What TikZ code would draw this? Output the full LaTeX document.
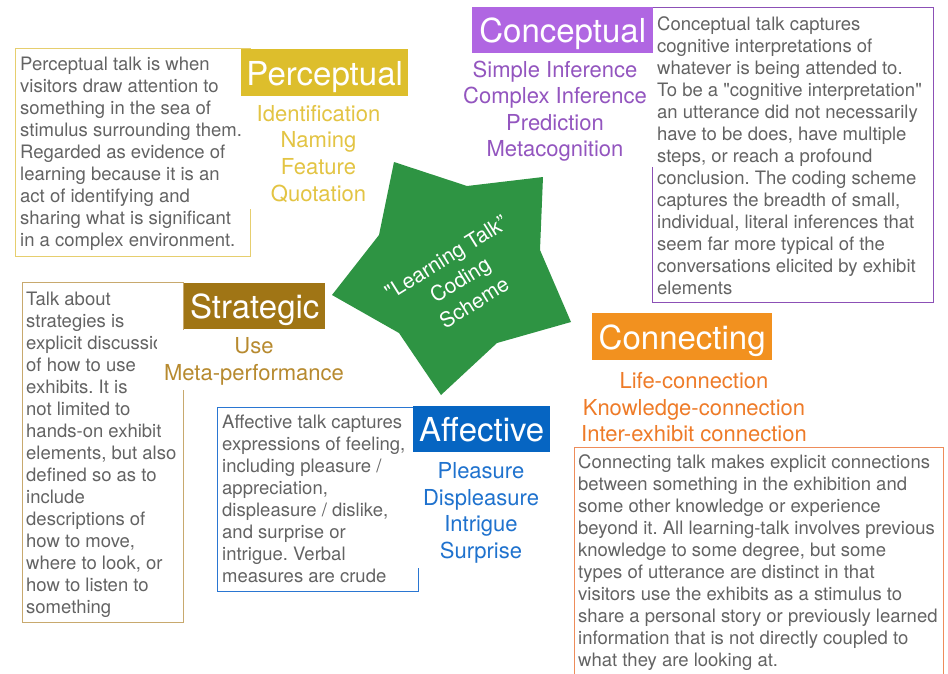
\documentclass[tikz,border=0pt]{standalone}
\usepackage{fontspec}
\setmainfont{TeX Gyre Heros}[Ligatures=TeXOff]

\definecolor{percfill}{HTML}{DDBE2C}
\definecolor{percitem}{HTML}{E3C443}
\definecolor{percline}{HTML}{E6CE6E}
\definecolor{concfill}{HTML}{B066E2}
\definecolor{concitem}{HTML}{9355BF}
\definecolor{concline}{HTML}{8C50B6}
\definecolor{stratfill}{HTML}{A07515}
\definecolor{stratitem}{HTML}{B78A2F}
\definecolor{stratline}{HTML}{C8A96E}
\definecolor{connfill}{HTML}{F2911F}
\definecolor{connitem}{HTML}{EE7B28}
\definecolor{connline}{HTML}{EE8C5A}
\definecolor{afffill}{HTML}{0665C2}
\definecolor{affitem}{HTML}{1F72CE}
\definecolor{affline}{HTML}{2A76D2}
\definecolor{stargreen}{HTML}{2E9443}
\definecolor{descgray}{HTML}{636363}

\begin{document}
\frenchspacing
\begin{tikzpicture}[x=1pt,y=-1pt,
  desc/.style={anchor=base west, inner sep=0pt, text=descgray,
    font=\fontsize{18.5}{22}\selectfont},
  item/.style={anchor=base, inner sep=0pt, font=\fontsize{22}{26.7}\selectfont},
  titlebox/.style={anchor=north west, inner sep=0pt, text=white,
    font=\fontsize{33}{36}\selectfont, text height=32pt, text depth=7.4pt},
  descbox/.style={anchor=north west, inner sep=0pt, line width=1.2pt},
  cover/.style={fill=white}]

\useasboundingbox (0,0) rectangle (948,673);

% description frames
\node[descbox, draw=percline, minimum width=235pt, minimum height=208pt] (pbox) at (15,48) {};
\node[descbox, draw=concline, minimum width=281pt, minimum height=295pt] (cbox) at (652,7) {};
\node[descbox, draw=stratline, minimum width=161pt, minimum height=340pt] (sbox) at (22,282) {};
\node[descbox, draw=affline, minimum width=201pt, minimum height=184pt] (abox) at (217,407) {};
\node[descbox, draw=connline, minimum width=369pt, minimum height=233pt] (nbox) at (574,447) {};

% description texts
\foreach \t [count=\i from 0] in {
  {Perceptual talk is when},
  {visitors draw attention to},
  {something in the sea of},
  {stimulus surrounding them.},
  {Regarded as evidence of},
  {learning because it is an},
  {act of identifying and},
  {sharing what is significant},
  {in a complex environment.}}
  \node[desc] (pd\i) at (20,{70.5+22*\i}) {\t};

\foreach \t [count=\i from 0] in {
  {Conceptual talk captures},
  {cognitive interpretations of},
  {whatever is being attended to.},
  {To be a "cognitive interpretation"},
  {an utterance did not necessarily},
  {have to be does, have multiple},
  {steps, or reach a profound},
  {conclusion. The coding scheme},
  {captures the breadth of small,},
  {individual, literal inferences that},
  {seem far more typical of the},
  {conversations elicited by exhibit},
  {elements}}
  \node[desc] (cd\i) at (657,{30.7+22*\i}) {\t};

\foreach \t [count=\i from 0] in {
  {Talk about},
  {strategies is},
  {explicit discussion},
  {of how to use},
  {exhibits. It is},
  {not limited to},
  {hands-on exhibit},
  {elements, but also},
  {defined so as to},
  {include},
  {descriptions of},
  {how to move,},
  {where to look, or},
  {how to listen to},
  {something}}
  \node[desc] (sd\i) at (26,{305+22*\i}) {\t};

\foreach \t [count=\i from 0] in {
  {Affective talk captures},
  {expressions of feeling,},
  {including pleasure /},
  {appreciation,},
  {displeasure / dislike,},
  {and surprise or},
  {intrigue. Verbal},
  {measures are crude}}
  \node[desc] (ad\i) at (222,{428+22*\i}) {\t};

\foreach \t [count=\i from 0] in {
  {Connecting talk makes explicit connections},
  {between something in the exhibition and},
  {some other knowledge or experience},
  {beyond it. All learning-talk involves previous},
  {knowledge to some degree, but some},
  {types of utterance are distinct in that},
  {visitors use the exhibits as a stimulus to},
  {share a personal story or previously learned},
  {information that is not directly coupled to},
  {what they are looking at.}}
  \node[desc] (nd\i) at (578,{468+22*\i}) {\t};

% white ground behind the category lists
\fill[cover] (245,96) rectangle (385,209);
\fill[cover] (460,53) rectangle (655,167);
\fill[cover] (157,329.5) rectangle (350,390);
\fill[cover] (416,452) rectangle (560,568);

% category titles
\node[titlebox, fill=percfill, minimum width=167pt, minimum height=47pt] (perc) at (241,49) {Perceptual};
\node[titlebox, fill=concfill, minimum width=181pt, minimum height=46pt] (conc) at (472,7) {Conceptual};
\node[titlebox, fill=stratfill, minimum width=141pt, minimum height=46pt] (strat) at (184,283) {Strategic};
\node[titlebox, fill=connfill, minimum width=180pt, minimum height=47pt] (conn) at (592,313) {Connecting};
\node[titlebox, fill=afffill, minimum width=137pt, minimum height=46pt] (aff) at (413,406) {Affective};

% category lists
\foreach \t [count=\i from 0] in {Identification,Naming,Feature,Quotation}
  \node[item, text=percitem] (pi\i) at (318.5,{121+26.7*\i}) {\t};
\foreach \t [count=\i from 0] in {Simple Inference,Complex Inference,Prediction,Metacognition}
  \node[item, text=concitem] (ci\i) at (555,{77.3+26.5*\i}) {\t};
\foreach \t [count=\i from 0] in {Use,Meta-performance}
  \node[item, text=stratitem] (si\i) at (254,{353.3+26.7*\i}) {\t};
\foreach \t [count=\i from 0] in {Life-connection,Knowledge-connection,Inter-exhibit connection}
  \node[item, text=connitem] (ni\i) at (694,{388.3+26.7*\i}) {\t};
\foreach \t [count=\i from 0] in {Pleasure,Displeasure,Intrigue,Surprise}
  \node[item, text=affitem] (ai\i) at (481,{478.3+26.7*\i}) {\t};

% central star
\fill[stargreen] (394,162) -- (467,186) -- (543,177) -- (540,250) -- (571,322)
  -- (497,343) -- (441,395) -- (399,333) -- (332,295) -- (379,235) -- cycle;
\node[text=white, align=center, rotate=32, inner sep=0pt,
  font=\fontsize{21}{26.5}\selectfont] (core) at (460,280)
  {"Learning Talk”\\Coding\\Scheme};

\end{tikzpicture}
\end{document}
